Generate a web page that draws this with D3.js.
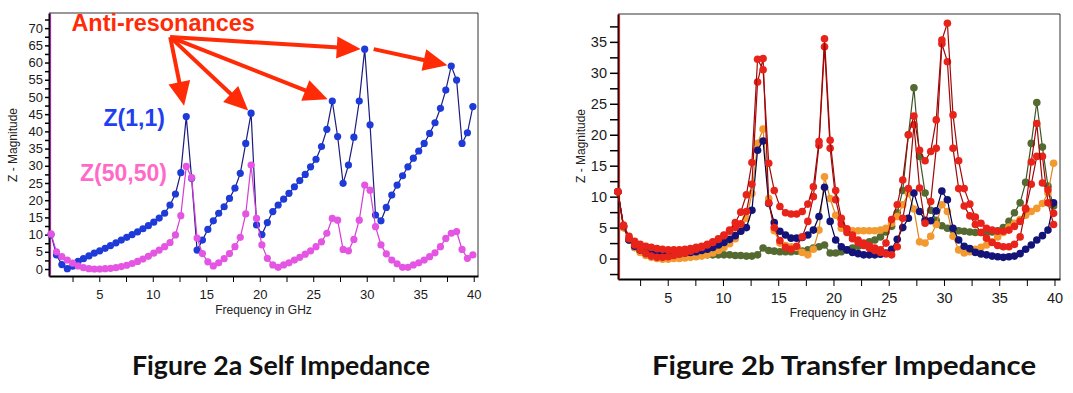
<!DOCTYPE html>
<html lang="en">
<head>
<meta charset="UTF-8">
<title>Figure 2 - Self and Transfer Impedance</title>
<script src="https://d3js.org/d3.v7.min.js"></script>
<style>
  body { margin: 0; background: #fff; }
  svg { display: block; font-family: "Liberation Sans", Arial, sans-serif; }
  .tick text { fill: #1a1a1a; }
  .caption { font-family: Lato, "Open Sans", sans-serif; font-weight: bold; font-size: 26px; fill: #111; }
  .axis-title { font-size: 12px; fill: #222; }
</style>
</head>
<body>
<svg id="chart" width="1073" height="393"></svg>
<script>
// sweep frequencies (GHz), shared by both plots
const freqGHz = [0.49, 1.00, 1.50, 2.01, 2.51, 3.02, 3.52, 4.03, 4.53, 5.04,
  5.55, 6.05, 6.56, 7.06, 7.57, 8.07, 8.58, 9.08, 9.59, 10.09,
  10.60, 11.11, 11.61, 12.12, 12.62, 13.13, 13.63, 14.14, 14.64, 15.15,
  15.66, 16.16, 16.67, 17.17, 17.68, 18.18, 18.69, 19.19, 19.70, 20.20,
  20.71, 21.22, 21.72, 22.23, 22.73, 23.24, 23.74, 24.25, 24.75, 25.26,
  25.77, 26.27, 26.78, 27.28, 27.79, 28.29, 28.80, 29.30, 29.81, 30.31,
  30.82, 31.33, 31.83, 32.34, 32.84, 33.35, 33.85, 34.36, 34.86, 35.37,
  35.88, 36.38, 36.89, 37.39, 37.90, 38.40, 38.91, 39.41, 39.92];

// Figure 2a - self impedance
const z11 = [10.0, 4.1, 1.3, 0.1, 0.8, 2.2, 3.0, 3.8, 4.6, 5.3,
  6.0, 6.8, 7.6, 8.4, 9.2, 10.0, 10.8, 11.7, 12.6, 13.6,
  14.8, 16.2, 18.6, 21.8, 28.0, 44.3, 26.4, 5.5, 8.4, 11.5,
  14.0, 16.2, 18.1, 20.5, 23.5, 27.8, 36.5, 45.3, 12.8, 10.0,
  13.5, 16.7, 18.6, 20.3, 22.0, 23.9, 25.7, 27.5, 29.7, 31.9,
  35.6, 40.6, 48.8, 38.5, 24.9, 30.2, 38.3, 48.8, 63.9, 41.9,
  15.7, 14.0, 17.9, 21.5, 24.4, 27.1, 29.7, 32.2, 34.3, 36.5,
  39.4, 42.5, 46.7, 52.0, 59.0, 54.9, 36.5, 39.6, 47.2];
const z5050 = [10.2, 5.0, 3.6, 2.6, 1.7, 0.9, 0.4, 0.1, 0.0, 0.0,
  0.1, 0.2, 0.4, 0.7, 1.1, 1.6, 2.2, 2.9, 3.7, 4.6,
  5.5, 6.5, 7.7, 9.9, 15.5, 29.8, 26.6, 9.0, 4.5, 2.1,
  0.9, 1.8, 3.0, 4.5, 6.5, 9.2, 16.0, 30.2, 14.7, 7.0,
  3.1, 1.2, 0.5, 1.2, 1.8, 2.6, 3.4, 4.3, 5.3, 6.5,
  7.9, 10.4, 14.7, 14.2, 5.7, 5.3, 8.6, 14.2, 24.4, 22.9,
  12.3, 7.0, 4.4, 2.6, 1.5, 0.5, 0.5, 1.2, 1.8, 2.6,
  3.6, 4.7, 6.5, 8.9, 10.4, 10.9, 5.7, 3.1, 4.1];
// anti-resonance peaks of Z(1,1) the arrows point at (indices into freqGHz)
const antiResonanceIdx = [25, 37, 52, 58];
const lastPeakIdx = 74;

// Figure 2b - transfer impedance
const zRedA = [10.8, 5.4, 3.6, 2.8, 2.3, 2.0, 1.8, 1.6, 1.5, 1.4,
  1.4, 1.4, 1.5, 1.6, 1.8, 2.0, 2.3, 2.7, 3.2, 3.8,
  4.6, 5.8, 7.5, 10.3, 15.5, 32.2, 30.5, 15.4, 11.0, 8.4,
  7.4, 7.2, 7.2, 7.6, 8.8, 11.6, 18.9, 35.5, 19.1, 11.0,
  6.5, 4.8, 3.8, 3.0, 2.5, 2.1, 1.7, 1.4, 2.5, 6.3,
  8.7, 12.7, 20.0, 23.0, 17.5, 15.8, 17.3, 22.4, 35.3, 38.0,
  23.2, 15.8, 11.3, 8.8, 6.7, 5.7, 4.9, 4.6, 4.4, 4.4,
  4.6, 5.2, 6.0, 8.1, 15.6, 21.8, 12.2, 11.1, 7.3];
const zRedB = [10.8, 5.2, 3.2, 2.2, 1.4, 0.8, 0.4, 0.2, 0.2, 0.3,
  0.5, 0.7, 0.9, 1.2, 1.5, 1.8, 2.2, 2.6, 3.1, 3.7,
  4.4, 5.0, 5.6, 7.6, 12.0, 28.5, 32.3, 9.0, 5.0, 2.9,
  1.8, 1.5, 2.0, 3.5, 6.0, 10.0, 18.3, 34.2, 17.8, 9.5,
  5.6, 4.2, 3.2, 2.6, 2.1, 1.7, 1.3, 1.0, 0.75, 0.6,
  1.9, 6.5, 11.3, 21.6, 11.4, 5.7, 9.2, 17.8, 34.7, 31.8,
  17.8, 11.3, 8.5, 6.9, 5.5, 4.2, 3.3, 2.6, 2.1, 1.9,
  1.9, 2.3, 3.5, 8.0, 12.0, 16.5, 16.5, 9.0, 5.5];
const zNavy = [10.8, 5.2, 3.0, 2.0, 1.4, 1.0, 0.8, 0.7, 0.7, 0.7,
  0.7, 0.8, 0.9, 1.0, 1.1, 1.3, 1.5, 1.8, 2.2, 2.6,
  3.1, 3.7, 4.4, 5.0, 7.8, 17.5, 19.0, 8.9, 5.8, 4.4,
  3.8, 3.3, 3.3, 3.4, 3.8, 4.6, 6.8, 11.5, 6.0, 3.0,
  1.9, 1.4, 1.0, 0.8, 0.6, 0.6, 0.6, 0.7, 0.9, 1.5,
  3.1, 5.0, 6.5, 10.6, 7.6, 6.2, 6.1, 7.7, 10.9, 9.5,
  4.9, 3.0, 2.0, 1.6, 1.0, 0.75, 0.6, 0.4, 0.3, 0.2,
  0.3, 0.4, 0.8, 1.5, 2.2, 3.0, 3.7, 4.6, 9.0];
const zOrange = [10.8, 5.0, 3.0, 1.8, 1.0, 0.5, 0.2, 0.0, -0.1, -0.1,
  0.0, 0.0, 0.1, 0.2, 0.3, 0.4, 0.6, 0.9, 1.3, 1.8,
  2.4, 3.2, 4.4, 6.5, 10.5, 18.6, 20.9, 9.7, 4.5, 2.5,
  2.1, 1.9, 1.8, 1.0, 0.6, 1.5, 4.6, 13.2, 9.7, 7.0,
  4.9, 4.6, 4.5, 4.5, 4.5, 4.5, 4.5, 4.6, 4.9, 5.7,
  6.8, 8.7, 10.5, 8.0, 2.7, 2.5, 3.6, 5.5, 8.7, 7.6,
  3.6, 1.4, 0.9, 1.1, 1.5, 1.8, 2.2, 2.7, 3.5, 4.2,
  5.1, 5.7, 6.3, 7.0, 7.6, 8.1, 8.9, 10.6, 15.4];
const zOlive = [10.8, 5.0, 3.0, 1.8, 1.2, 0.9, 0.7, 0.6, 0.6, 0.6,
  0.6, 0.6, 0.6, 0.6, 0.6, 0.6, 0.6, 0.6, 0.6, 0.6,
  0.6, 0.5, 0.5, 0.4, 0.4, 0.6, 1.7, 1.3, 1.2, 1.1,
  1.1, 1.1, 1.2, 1.2, 1.4, 1.7, 1.9, 2.2, 0.9, 0.9,
  1.1, 1.4, 1.7, 2.0, 2.3, 2.7, 3.0, 3.5, 4.3, 5.2,
  7.4, 11.0, 20.0, 27.6, 16.5, 10.6, 7.8, 6.2, 5.3, 4.9,
  4.6, 4.5, 4.4, 4.3, 4.2, 4.2, 4.2, 4.3, 4.5, 5.0,
  6.0, 7.4, 9.0, 12.3, 18.6, 25.2, 18.0, 11.7, 8.5];

const svg = d3.select("#chart");
svg.append("rect").attr("width", 1073).attr("height", 393).attr("fill", "#fff");

function drawFrame(x, y, opt) {
    const [x0, x1] = x.range();
    const [yBottom, yTop] = y.range();
    const g = svg.append("g");

    // top and right border
    g.append("path")
        .attr("d", `M${x0},${yTop}H${x1}V${yBottom}`)
        .attr("fill", "none").attr("stroke", "#333").attr("stroke-width", 1);

    const xAxis = d3.axisBottom(x)
        .tickValues(d3.range(2.5, 40.01, 2.5))
        .tickFormat(d => d % 5 === 0 ? d : "")
        .tickSize(opt.xTick).tickSizeOuter(0).tickPadding(opt.xPad);
    const gx = g.append("g").attr("transform", `translate(0,${yBottom})`).call(xAxis);
    gx.selectAll("text").style("font-size", opt.font + "px");

    const yAxis = d3.axisLeft(y)
        .tickValues(d3.range(opt.yMinTick, opt.yMaxTick + 0.01, 2.5))
        .tickFormat(d => d % 5 === 0 ? d : "")
        .tickSize(opt.yTick).tickSizeOuter(0).tickPadding(opt.yPad);
    const gy = g.append("g").attr("transform", `translate(${x0},0)`).call(yAxis);
    gy.selectAll("text").style("font-size", opt.font + "px");

    gx.selectAll(".domain, line").attr("stroke", "#000");
    gx.select(".domain").attr("stroke-width", 2);
    gy.selectAll("line").attr("stroke", "#000").attr("stroke-width", 1.5);
    gy.select(".domain").attr("stroke", "#000").attr("stroke-width", 2);
    // coloured edge along the y axis
    g.append("line")
        .attr("x1", x0 + 1.5).attr("x2", x0 + 1.5)
        .attr("y1", yTop).attr("y2", yBottom)
        .attr("stroke", opt.edge).attr("stroke-width", 1.2);

    g.append("text").attr("class", "axis-title")
        .attr("x", (x0 + x1) / 2 + opt.titleShift).attr("y", yBottom + opt.titleDy)
        .attr("text-anchor", "middle")
        .text("Frequency in GHz");
    g.append("text").attr("class", "axis-title")
        .attr("transform", `translate(${opt.yTitleX},${opt.yTitleY}) rotate(-90)`)
        .attr("text-anchor", "middle")
        .text("Z - Magnitude");
}

function drawSeries(x, y, values, lineColor, dotColor, r) {
    const pts = freqGHz.map((f, i) => [f, values[i]]);
    const g = svg.append("g");
    g.append("path").datum(pts)
        .attr("d", d3.line().x(d => x(d[0])).y(d => y(d[1])))
        .attr("fill", "none").attr("stroke", lineColor).attr("stroke-width", 1.2);
    g.selectAll("circle").data(pts).join("circle")
        .attr("cx", d => x(d[0])).attr("cy", d => y(d[1]))
        .attr("r", r).attr("fill", dotColor);
}

// ---------- Figure 2a ----------
const xL = d3.scaleLinear().domain([0.3, 40.4]).range([49, 478]);
const yL = d3.scaleLinear().domain([-2.03, 74.4]).range([276, 13]);

drawFrame(xL, yL, {
    xTick: 6, xPad: 8, yTick: 4, yPad: 2, font: 13,
    yMinTick: 0, yMaxTick: 72.5, edge: "#9a2a9a",
    titleShift: 0, titleDy: 38, yTitleX: 17, yTitleY: 145
});

drawSeries(xL, yL, z11, "#1c1c80", "#1e3ad8", 3.6);
drawSeries(xL, yL, z5050, "#d63cd6", "#e455e4", 3.6);

svg.append("text")
    .attr("x", xL(5.4)).attr("y", yL(41.5))
    .attr("font-weight", "bold").attr("font-size", 23).attr("fill", "#1f3ff0")
    .text("Z(1,1)");
svg.append("text")
    .attr("x", xL(3.2)).attr("y", yL(25.5))
    .attr("font-weight", "bold").attr("font-size", 23).attr("fill", "#ff6ac8")
    .text("Z(50,50)");

// anti-resonance callout
const arrowColor = "#ff2a06";
svg.append("text")
    .attr("x", xL(2.4)).attr("y", yL(69.2))
    .attr("font-weight", "bold").attr("font-size", 23.4).attr("fill", arrowColor)
    .text("Anti-resonances");

function arrow(from, to, gap) {
    const dx = to[0] - from[0], dy = to[1] - from[1];
    const len = Math.hypot(dx, dy);
    const ux = dx / len, uy = dy / len;
    const tip = [to[0] - ux * gap, to[1] - uy * gap];
    const headLen = 24, halfW = 11;
    const base = [tip[0] - ux * headLen, tip[1] - uy * headLen];
    svg.append("line")
        .attr("x1", from[0]).attr("y1", from[1])
        .attr("x2", base[0] + ux * 2).attr("y2", base[1] + uy * 2)
        .attr("stroke", arrowColor).attr("stroke-width", 4);
    svg.append("path")
        .attr("d", `M${tip[0]},${tip[1]}L${base[0] - uy * halfW},${base[1] + ux * halfW}` +
            `L${base[0] + uy * halfW},${base[1] - ux * halfW}Z`)
        .attr("fill", arrowColor);
}

const calloutOrigin = [xL(11.63), yL(67.4)];
const gaps = [11, 4, 5, 4];
antiResonanceIdx.forEach((idx, i) => {
    arrow(calloutOrigin, [xL(freqGHz[idx]), yL(z11[idx])], gaps[i]);
});
const p4 = [xL(freqGHz[antiResonanceIdx[3]]) + 9, yL(z11[antiResonanceIdx[3]])];
arrow(p4, [xL(freqGHz[lastPeakIdx]), yL(z11[lastPeakIdx])], 4);

// ---------- Figure 2b ----------
const xR = d3.scaleLinear().domain([0.5, 40.5]).range([618, 1060]);
const yR = d3.scaleLinear().domain([-3.3, 39.5]).range([279, 14]);

drawFrame(xR, yR, {
    xTick: 7, xPad: 7, yTick: 8, yPad: 3, font: 14.5,
    yMinTick: -2.5, yMaxTick: 37.5, edge: "#e02020",
    titleShift: -1, titleDy: 38, yTitleX: 585, yTitleY: 146
});

drawSeries(xR, yR, zOlive, "#3d5526", "#546a30", 3.8);
drawSeries(xR, yR, zOrange, "#e08418", "#f29a30", 3.8);
drawSeries(xR, yR, zNavy, "#00004a", "#141478", 3.8);
drawSeries(xR, yR, zRedB, "#a00808", "#e8241a", 3.8);
drawSeries(xR, yR, zRedA, "#a00808", "#e8241a", 3.8);

// ---------- captions ----------
svg.append("text").attr("class", "caption")
    .attr("x", 132).attr("y", 375)
    .attr("textLength", 298).attr("lengthAdjust", "spacingAndGlyphs")
    .text("Figure 2a Self Impedance");
svg.append("text").attr("class", "caption")
    .attr("x", 652).attr("y", 375)
    .attr("textLength", 384).attr("lengthAdjust", "spacingAndGlyphs")
    .text("Figure 2b Transfer Impedance");
</script>
</body>
</html>
